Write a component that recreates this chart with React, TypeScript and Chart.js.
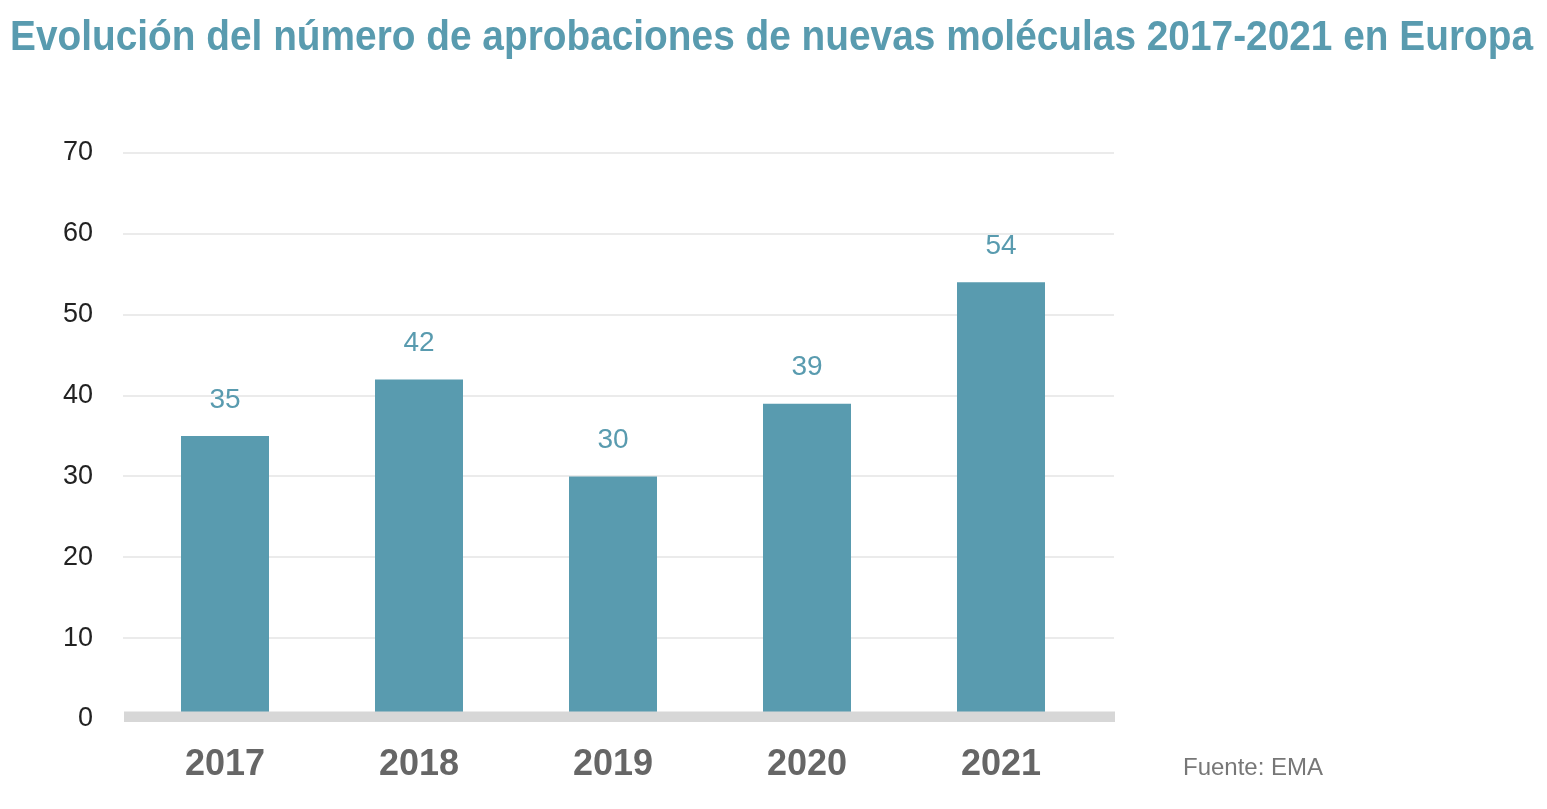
import React, { useEffect, useRef } from "react";
import { Chart, registerables } from "chart.js";

Chart.register(...registerables);

const titleText = "Evolución del número de aprobaciones de nuevas moléculas 2017-2021 en Europa";
const sourceText = "Fuente: EMA";
const categories = ["2017", "2018", "2019", "2020", "2021"];
const approvals = [35, 42, 30, 39, 54];
const yTicks = [0, 10, 20, 30, 40, 50, 60, 70];

const TEAL = "rgb(89,155,175)";
const SANS = "'Liberation Sans', Arial, Helvetica, sans-serif";

const decorPlugin = {
  id: "decor",
  beforeDatasetsDraw(chart: any) {
    const { ctx, scales } = chart;
    const y = scales.y;
    ctx.save();
    ctx.strokeStyle = "#ebebeb";
    ctx.lineWidth = 2;
    yTicks.forEach((v) => {
      if (v === 0) return;
      const py = Math.round(y.getPixelForValue(v));
      ctx.beginPath();
      ctx.moveTo(123, py);
      ctx.lineTo(1114, py);
      ctx.stroke();
    });
    ctx.restore();
  },
  afterDatasetsDraw(chart: any) {
    const { ctx, scales } = chart;
    const y = scales.y;
    const zero = y.getPixelForValue(0);
    ctx.save();
    // baseline band
    ctx.fillStyle = "#d7d7d7";
    ctx.fillRect(124, zero - 7.5, 991, 10.5);
    // value labels
    const meta = chart.getDatasetMeta(0);
    ctx.fillStyle = TEAL;
    ctx.font = `28px ${SANS}`;
    ctx.textAlign = "center";
    ctx.textBaseline = "middle";
    meta.data.forEach((bar: any, i: number) => {
      ctx.fillText(String(approvals[i]), bar.x, bar.y - 36);
    });
    // source
    ctx.fillStyle = "#777777";
    ctx.font = `24px ${SANS}`;
    ctx.textAlign = "left";
    ctx.fillText(sourceText, 1183, 768);
    // title (condensed bold look)
    ctx.font = `bold 43px ${SANS}`;
    ctx.fillStyle = TEAL;
    ctx.textBaseline = "alphabetic";
    const w = ctx.measureText(titleText).width;
    const sx = 1523 / w;
    ctx.translate(10, 50);
    ctx.scale(sx, 1);
    ctx.fillText(titleText, 0, 0);
    ctx.restore();
  },
};

export default function App() {
  const ref = useRef<HTMLCanvasElement>(null);
  useEffect(() => {
    if (!ref.current) return;
    const chart = new Chart(ref.current, {
      type: "bar",
      data: {
        labels: categories,
        datasets: [
          {
            data: approvals,
            backgroundColor: TEAL,
            borderWidth: 0,
            categoryPercentage: 1,
            barPercentage: 88 / 194,
          },
        ],
      },
      options: {
        responsive: false,
        animation: false,
        layout: { padding: { left: 10, right: 449, top: 153, bottom: 0 } },
        plugins: {
          legend: { display: false },
          tooltip: { enabled: false },
          title: { display: false },
        },
        scales: {
          x: {
            grid: { display: false, drawTicks: false },
            border: { display: false },
            ticks: {
              color: "#666666",
              font: { family: SANS, size: 36, weight: "bold" },
              padding: 24,
            },
            afterFit(scale: any) {
              scale.height = 90;
            },
          },
          y: {
            min: 0,
            max: 70,
            grid: { display: false, drawTicks: false },
            border: { display: false },
            ticks: {
              stepSize: 10,
              color: "#222222",
              font: { family: SANS, size: 27 },
              padding: 35,
            },
            afterFit(scale: any) {
              scale.width = 118;
            },
          },
        },
      },
      plugins: [decorPlugin],
    });
    return () => chart.destroy();
  }, []);
  return (
    <div style={{ position: "fixed", left: 0, top: 0, width: 1547, height: 809, background: "#fff" }}>
      <canvas ref={ref} width={1547} height={809} />
    </div>
  );
}
